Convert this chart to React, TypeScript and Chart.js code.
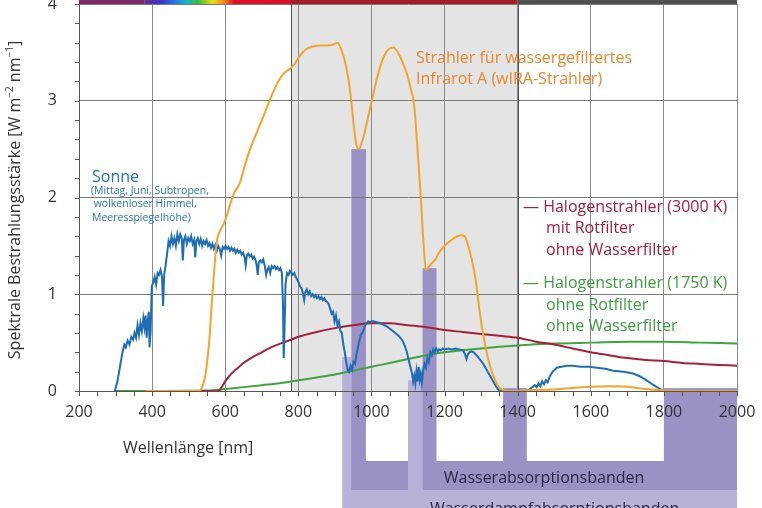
import React, { useEffect, useRef } from 'react';
import { Chart, registerables } from 'chart.js';

Chart.register(...registerables);

// ---------- data ----------
const xTickValues = [200, 400, 600, 800, 1000, 1200, 1400, 1600, 1800, 2000];
const yTickValues = [0, 1, 2, 3, 4];

const sun: [number, number][] = [
  [298, 0], [305, 0.1], [312, 0.25], [318, 0.38], [324, 0.48], [328, 0.45], [333, 0.52], [338, 0.48], [343, 0.56], [348, 0.53],
  [352, 0.6], [356, 0.55], [360, 0.68], [364, 0.58], [368, 0.7], [372, 0.62], [376, 0.75], [379, 0.66], [382, 0.78], [385, 0.55],
  [388, 0.72], [391, 0.82], [393, 0.45], [396, 0.62], [399, 1.08], [403, 1.12], [407, 1.18], [411, 1.1], [415, 1.22], [419, 1.2],
  [423, 1.25], [427, 1.18], [430, 0.88], [433, 1.2], [437, 1.3], [441, 1.42], [445, 1.55], [449, 1.5], [453, 1.6], [457, 1.52],
  [461, 1.58], [465, 1.5], [469, 1.62], [473, 1.55], [477, 1.62], [481, 1.58], [484, 1.35], [487, 1.56], [491, 1.6], [495, 1.52],
  [499, 1.58], [503, 1.55], [507, 1.6], [511, 1.52], [515, 1.56], [518, 1.38], [521, 1.55], [525, 1.58], [529, 1.52], [533, 1.57],
  [537, 1.5], [541, 1.55], [545, 1.52], [549, 1.56], [553, 1.5], [557, 1.53], [561, 1.48], [565, 1.52], [569, 1.47], [573, 1.51],
  [577, 1.45], [581, 1.5], [585, 1.47], [589, 1.4], [593, 1.49], [597, 1.47], [601, 1.5], [605, 1.47], [609, 1.49], [613, 1.45],
  [617, 1.48], [621, 1.45], [625, 1.47], [629, 1.43], [633, 1.46], [637, 1.43], [641, 1.45], [645, 1.41], [649, 1.43], [653, 1.38],
  [656, 1.3], [659, 1.4], [663, 1.42], [667, 1.39], [671, 1.41], [675, 1.37], [679, 1.39], [683, 1.35], [686, 1.3], [689, 1.2],
  [692, 1.33], [696, 1.35], [700, 1.33], [704, 1.36], [708, 1.3], [712, 1.2], [715, 1.25], [719, 1.28], [723, 1.22], [727, 1.29],
  [731, 1.27], [735, 1.29], [739, 1.26], [743, 1.28], [747, 1.25], [751, 1.27], [755, 1.22], [758, 0.9], [760, 0.34], [762, 0.6],
  [765, 1.1], [769, 1.22], [773, 1.2], [777, 1.24], [781, 1.22], [785, 1.2], [789, 1.22], [793, 1.18], [797, 1.15], [801, 1.12],
  [805, 1.08], [809, 1.06], [813, 1.0], [816, 0.94], [819, 1.02], [823, 1.05], [827, 1.0], [831, 1.03], [835, 0.98], [839, 1.0],
  [843, 0.97], [847, 0.99], [851, 0.96], [855, 0.98], [859, 0.95], [863, 0.97], [867, 0.94], [871, 0.96], [875, 0.93], [879, 0.92],
  [883, 0.9], [887, 0.85], [891, 0.8], [895, 0.82], [899, 0.72], [903, 0.78], [907, 0.68], [911, 0.72], [915, 0.62], [919, 0.6],
  [923, 0.48], [927, 0.4], [931, 0.3], [935, 0.22], [939, 0.2], [943, 0.26], [947, 0.22], [951, 0.3], [955, 0.28], [959, 0.38],
  [963, 0.45], [967, 0.52], [971, 0.58], [975, 0.6], [979, 0.64], [983, 0.68], [987, 0.7], [991, 0.72], [995, 0.71], [1000, 0.72],
  [1005, 0.72], [1015, 0.71], [1025, 0.7], [1035, 0.68], [1045, 0.66], [1055, 0.63], [1065, 0.6], [1075, 0.57], [1085, 0.52], [1092, 0.46],
  [1097, 0.4], [1102, 0.32], [1107, 0.24], [1111, 0.18], [1114, 0.1], [1117, 0.16], [1120, 0.08], [1123, 0.2], [1126, 0.1], [1129, 0.25],
  [1132, 0.12], [1135, 0.18], [1138, 0.08], [1141, 0.2], [1145, 0.28], [1149, 0.24], [1153, 0.34], [1157, 0.3], [1161, 0.4], [1165, 0.37],
  [1169, 0.43], [1173, 0.4], [1177, 0.44], [1181, 0.41], [1185, 0.43], [1190, 0.42], [1195, 0.44], [1200, 0.43], [1210, 0.44], [1220, 0.43],
  [1230, 0.44], [1240, 0.43], [1250, 0.42], [1256, 0.38], [1260, 0.33], [1264, 0.38], [1268, 0.4], [1274, 0.41], [1280, 0.4], [1287, 0.37],
  [1294, 0.34], [1300, 0.31], [1306, 0.28], [1312, 0.24], [1318, 0.2], [1324, 0.16], [1330, 0.12], [1336, 0.08], [1342, 0.04], [1348, 0.01],
  [1352, 0], [1420, 0], [1430, 0.01], [1440, 0.04], [1447, 0.06], [1452, 0.04], [1457, 0.08], [1462, 0.05], [1467, 0.1], [1472, 0.07],
  [1477, 0.11], [1482, 0.09], [1489, 0.16], [1496, 0.2], [1507, 0.24], [1520, 0.25], [1534, 0.26], [1550, 0.26], [1571, 0.25], [1595, 0.25],
  [1617, 0.24], [1640, 0.23], [1661, 0.21], [1690, 0.2], [1716, 0.18], [1735, 0.15], [1753, 0.11], [1768, 0.07], [1781, 0.04], [1795, 0.01],
  [1800, 0], [2000, 0],
];

const wira: [number, number][] = [
  [380, 0], [530, 0], [538, 0.05], [545, 0.15], [552, 0.35], [558, 0.6], [563, 0.9], [567, 1.1], [572, 1.35], [577, 1.55],
  [585, 1.65], [595, 1.72], [605, 1.82], [615, 1.95], [625, 2.05], [640, 2.15], [655, 2.35], [670, 2.52], [685, 2.66], [700, 2.8],
  [715, 2.94], [730, 3.08], [745, 3.2], [760, 3.28], [777, 3.33], [790, 3.38], [805, 3.47], [820, 3.53], [840, 3.56], [860, 3.57],
  [880, 3.57], [895, 3.58], [908, 3.6], [918, 3.52], [928, 3.4], [938, 3.2], [946, 2.95], [953, 2.7], [960, 2.52], [966, 2.5],
  [972, 2.55], [980, 2.65], [990, 2.82], [1000, 2.98], [1010, 3.15], [1020, 3.3], [1030, 3.42], [1040, 3.5], [1050, 3.54], [1060, 3.55],
  [1072, 3.5], [1085, 3.4], [1097, 3.28], [1108, 3.12], [1117, 2.95], [1126, 2.5], [1135, 2.0], [1142, 1.55], [1149, 1.25], [1156, 1.28],
  [1165, 1.32], [1175, 1.36], [1185, 1.43], [1200, 1.5], [1215, 1.55], [1230, 1.59], [1245, 1.61], [1255, 1.6], [1265, 1.5], [1275, 1.35],
  [1285, 1.15], [1295, 0.85], [1305, 0.6], [1315, 0.4], [1325, 0.25], [1335, 0.14], [1345, 0.06], [1355, 0.02], [1370, 0], [1420, 0.005],
  [1450, 0.01], [1500, 0.015], [1550, 0.03], [1600, 0.045], [1650, 0.05], [1700, 0.045], [1750, 0.02], [1800, 0.005], [1850, 0], [2000, 0],
];

const halogen3000: [number, number][] = [
  [380, 0], [580, 0], [585, 0.01], [592, 0.05], [600, 0.1], [610, 0.15], [620, 0.19], [635, 0.24], [650, 0.29], [675, 0.35],
  [700, 0.4], [725, 0.45], [750, 0.49], [780, 0.53], [800, 0.56], [850, 0.61], [900, 0.65], [950, 0.68], [1000, 0.7], [1050, 0.7],
  [1100, 0.68], [1150, 0.66], [1200, 0.63], [1250, 0.61], [1300, 0.59], [1350, 0.57], [1400, 0.55], [1450, 0.51], [1500, 0.48], [1550, 0.44],
  [1600, 0.4], [1650, 0.37], [1700, 0.34], [1750, 0.32], [1800, 0.31], [1850, 0.29], [1900, 0.28], [1950, 0.27], [2000, 0.26],
];

const halogen1750: [number, number][] = [
  [300, 0], [550, 0.005], [600, 0.02], [650, 0.04], [700, 0.06], [750, 0.08], [800, 0.11], [850, 0.14], [900, 0.17], [950, 0.21],
  [1000, 0.25], [1050, 0.29], [1100, 0.33], [1150, 0.37], [1200, 0.4], [1300, 0.44], [1400, 0.47], [1500, 0.49], [1600, 0.5], [1700, 0.51],
  [1800, 0.51], [1900, 0.5], [2000, 0.49],
];

// spectral regions of the top bar
const regionNames = ['UV', 'VIS', 'IR-A', 'IR-B'];
const regionFrom = [200, 380, 780, 1400];
const regionTo = [380, 780, 1400, 2000];
const visStops: [number, string][] = [
  [380, '#6b2c92'], [425, '#3a35c8'], [465, '#1f7fe0'], [495, '#19b5c8'], [525, '#3dba3d'],
  [565, '#e6df1e'], [595, '#f0901e'], [625, '#df1028'], [780, '#d8112a'],
];
const irAShade: [number, number] = [780, 1400];

// absorption bands: [from nm, to nm, top value in plot]
const waterBands: [number, number, number][] = [[945, 985, 2.5], [1140, 1178, 1.27], [1360, 1425, 0.03], [1800, 2000, 0.03]];
const vaporBands: [number, number, number][] = [[920, 945, 0.35], [1100, 1140, 0.11]];
const vaporSpan: [number, number] = [920, 2000];
const waterGroups: [number, number][] = [[945, 1100], [1140, 2000]];
const bandWindows: [number, number][] = [[985, 1100], [1178, 1360], [1425, 1800]];

const FONT = '"Open Sans", "DejaVu Sans", sans-serif';
const C_SUN = '#1f6db5';
const C_WIRA = '#f2a52a';
const C_H3000 = '#a3213a';
const C_H1750 = '#3fa33f';
const DARK_P = '#9a92c4';
const LIGHT_P = '#b8b2d8';

const pts = (a: [number, number][]) => a.map(([x, y]) => ({ x, y }));

const decorPlugin = {
  id: 'decor',
  beforeDraw(chart: any) {
    const { ctx, chartArea: a, scales } = chart;
    const xs = scales.x, ys = scales.y;
    const px = (v: number) => xs.getPixelForValue(v);
    const py = (v: number) => ys.getPixelForValue(v);
    ctx.save();
    // IR-A shade
    ctx.fillStyle = '#e4e4e4';
    ctx.fillRect(px(irAShade[0]), a.top, px(irAShade[1]) - px(irAShade[0]), a.bottom - a.top);
    // top bar
    const colors = ['#7a2a68', null, '#a61c24', '#505050'];
    for (let i = 0; i < regionNames.length; i++) {
      const x0 = px(regionFrom[i]), x1 = px(regionTo[i]);
      if (colors[i]) ctx.fillStyle = colors[i];
      else {
        const g = ctx.createLinearGradient(x0, 0, x1, 0);
        visStops.forEach(([nm, c]) => g.addColorStop((nm - regionFrom[i]) / (regionTo[i] - regionFrom[i]), c));
        ctx.fillStyle = g;
      }
      ctx.fillRect(x0, -20, x1 - x0, a.top + 20);
    }
    ctx.fillStyle = '#ffffff';
    ctx.font = `bold 13px ${FONT}`;
    ctx.textAlign = 'center';
    ctx.textBaseline = 'alphabetic';
    for (let i = 0; i < regionNames.length; i++) {
      ctx.fillText(regionNames[i], (px(regionFrom[i]) + px(regionTo[i])) / 2, 0);
    }
    // in-plot strips
    ctx.fillStyle = LIGHT_P;
    vaporBands.forEach(([f, t, top]) => ctx.fillRect(px(f), py(top), px(t) - px(f), a.bottom - py(top)));
    ctx.fillStyle = DARK_P;
    waterBands.forEach(([f, t, top]) => ctx.fillRect(px(f), py(top), px(t) - px(f), a.bottom - py(top)));
    // below the axis
    const H = chart.height;
    const winBottom = a.bottom + 70;
    const darkBottom = a.bottom + 99;
    ctx.fillStyle = LIGHT_P;
    ctx.fillRect(px(vaporSpan[0]), a.bottom, px(vaporSpan[1]) - px(vaporSpan[0]), H - a.bottom);
    ctx.fillStyle = DARK_P;
    waterGroups.forEach(([f, t]) => ctx.fillRect(px(f), a.bottom, px(t) - px(f), darkBottom - a.bottom));
    ctx.fillStyle = '#ffffff';
    bandWindows.forEach(([f, t]) => ctx.fillRect(px(f), a.bottom, px(t) - px(f), winBottom - a.bottom));
    ctx.fillStyle = '#2b2543';
    ctx.font = `16px ${FONT}`;
    ctx.textAlign = 'center';
    ctx.fillText('Wasserabsorptionsbanden', 544, a.bottom + 92);
    ctx.textAlign = 'left';
    ctx.fillText('Wasserdampfabsorptionsbanden', 430, a.bottom + 123);
    ctx.restore();
  },
  beforeDatasetsDraw(chart: any) {
    const { ctx, chartArea: a, scales } = chart;
    const px = (v: number) => scales.x.getPixelForValue(v);
    ctx.save();
    ctx.strokeStyle = '#555';
    ctx.lineWidth = 1;
    [irAShade[0], irAShade[1]].forEach((v) => {
      const x = Math.round(px(v)) + 0.5;
      ctx.beginPath();
      ctx.moveTo(x, a.top);
      ctx.lineTo(x, a.bottom);
      ctx.stroke();
    });
    ctx.restore();
  },
  afterDraw(chart: any) {
    const { ctx, chartArea: a, scales } = chart;
    const px = (v: number) => scales.x.getPixelForValue(v);
    const py = (v: number) => scales.y.getPixelForValue(v);
    ctx.save();
    ctx.strokeStyle = '#555';
    ctx.lineWidth = 1;
    for (let v = 200; v <= 2000; v += 50) {
      const x = Math.round(px(v)) + 0.5;
      ctx.beginPath();
      ctx.moveTo(x, a.bottom);
      ctx.lineTo(x, a.bottom + 5);
      ctx.stroke();
    }
    for (let i = 0; i <= 20; i++) {
      const y = Math.round(py(i * 0.2)) + 0.5;
      ctx.beginPath();
      ctx.moveTo(a.left - 4, y);
      ctx.lineTo(a.left, y);
      ctx.stroke();
    }
    const text = (s: string, x: number, y: number, size: number, color: string) => {
      ctx.font = `${size}px ${FONT}`;
      ctx.fillStyle = color;
      ctx.textAlign = 'left';
      ctx.textBaseline = 'alphabetic';
      ctx.fillText(s, x, y);
    };
    // x title
    text('Wellenlänge [nm]', 123, 453, 16, '#333');
    // y title with superscripts
    ctx.save();
    ctx.translate(20, 200);
    ctx.rotate(-Math.PI / 2);
    const segs: [string, boolean][] = [
      ['Spektrale Bestrahlungsstärke [W m', false], ['−2', true], [' nm', false], ['−1', true], [']', false],
    ];
    const fontOf = (sup: boolean) => (sup ? `10px ${FONT}` : `16px ${FONT}`);
    let total = 0;
    segs.forEach(([s, sup]) => { ctx.font = fontOf(sup); total += ctx.measureText(s).width; });
    let cx = -total / 2;
    ctx.fillStyle = '#333';
    ctx.textBaseline = 'alphabetic';
    ctx.textAlign = 'left';
    segs.forEach(([s, sup]) => {
      ctx.font = fontOf(sup);
      ctx.fillText(s, cx, sup ? -7 : 0);
      cx += ctx.measureText(s).width;
    });
    ctx.restore();
    // annotations
    text('Sonne', 92, 182, 16, '#2a73b6');
    text('(Mittag, Juni, Subtropen,', 91, 194, 10.5, '#2a73b6');
    text(' wolkenloser Himmel,', 91, 207, 10.5, '#2a73b6');
    text('Meeresspiegelhöhe)', 92, 221, 10.5, '#2a73b6');
    text('Strahler für wassergefiltertes', 416, 63, 16, '#e8872e');
    text('Infrarot A (wIRA-Strahler)', 416, 84, 16, '#e8872e');
    text('— Halogenstrahler (3000 K)', 523, 212, 16, '#9e1f3d');
    text('mit Rotfilter', 546, 233, 16, '#9e1f3d');
    text('ohne Wasserfilter', 546, 255, 16, '#9e1f3d');
    text('— Halogenstrahler (1750 K)', 523, 288, 16, '#3d9e3d');
    text('ohne Rotfilter', 546, 310, 16, '#3d9e3d');
    text('ohne Wasserfilter', 546, 331, 16, '#3d9e3d');
    ctx.restore();
  },
};

export default function App() {
  const ref = useRef<HTMLCanvasElement | null>(null);
  useEffect(() => {
    if (!ref.current) return;
    const line = (label: string, data: [number, number][], color: string, smooth: boolean) => ({
      label,
      data: pts(data),
      borderColor: color,
      backgroundColor: color,
      borderWidth: 2,
      pointRadius: 0,
      fill: false,
      tension: smooth ? 0.4 : 0,
      cubicInterpolationMode: smooth ? 'monotone' : 'default',
    });
    const zeroPad = (s: any) => { s.paddingTop = 0; s.paddingBottom = 0; s.paddingLeft = 0; s.paddingRight = 0; };
    const chart = new Chart(ref.current, {
      type: 'line',
      data: {
        datasets: [
          line('wIRA-Strahler', wira, C_WIRA, true),
          line('Sonne', sun, C_SUN, false),
          line('Halogenstrahler (3000 K)', halogen3000, C_H3000, true),
          line('Halogenstrahler (1750 K)', halogen1750, C_H1750, true),
        ] as any,
      },
      options: {
        responsive: false,
        animation: false,
        devicePixelRatio: 1,
        layout: { padding: { top: 4, right: 25, left: 0, bottom: 0 } },
        plugins: { legend: { display: false }, tooltip: { enabled: false } },
        scales: {
          x: {
            type: 'linear',
            min: 200,
            max: 2000,
            afterFit: (s: any) => { s.height = 117; zeroPad(s); },
            afterBuildTicks: (s: any) => { s.ticks = xTickValues.map((v) => ({ value: v })); },
            ticks: { padding: 12, color: '#333', font: { family: FONT, size: 16 }, callback: (v: any) => String(v), maxRotation: 0, autoSkip: false },
            grid: { color: '#8a8a8a', lineWidth: 1, drawTicks: false },
            border: { display: true, color: '#555', width: 1 },
          },
          y: {
            type: 'linear',
            min: 0,
            max: 4,
            afterFit: (s: any) => { s.width = 79; zeroPad(s); },
            afterBuildTicks: (s: any) => { s.ticks = yTickValues.map((v) => ({ value: v })); },
            ticks: { padding: 22, color: '#333', font: { family: FONT, size: 16 }, callback: (v: any) => String(v) },
            grid: { color: '#7a7a7a', lineWidth: 1, drawTicks: false },
            border: { display: true, color: '#555', width: 1 },
          },
        },
      } as any,
      plugins: [decorPlugin],
    });
    return () => chart.destroy();
  }, []);
  return (
    <div style={{ position: 'fixed', left: 0, top: 0, width: 762, height: 508, background: '#fff' }}>
      <canvas ref={ref} width={762} height={508} style={{ display: 'block' }} />
    </div>
  );
}
